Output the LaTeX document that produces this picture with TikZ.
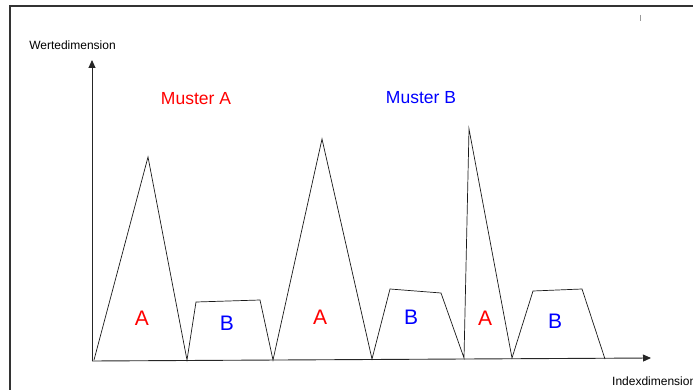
\documentclass[tikz,border=0pt]{standalone}
\usepackage{fontspec}
\setmainfont{Liberation Sans}
\usetikzlibrary{arrows.meta}
\begin{document}
\begin{tikzpicture}[x=1pt,y=-1pt,
  axis/.style={line width=0.9pt,draw=black!85,-{Triangle[length=8pt,width=7pt]}},
  curve/.style={line width=0.7pt,draw=black!90,line join=miter},
  lblA/.style={text=red,font=\fontsize{21}{21}\selectfont,inner sep=0pt},
  lblB/.style={text=blue,font=\fontsize{21}{21}\selectfont,inner sep=0pt},
  title/.style={font=\fontsize{17.5}{17.5}\selectfont,inner sep=0pt},
  axlabel/.style={font=\fontsize{12}{12}\selectfont,inner sep=0pt}]
\useasboundingbox (0,0) rectangle (693,390);
% frame
\draw[line width=1.4pt,draw=black!80] (10,390) -- (10,6) -- (693,6);
\draw[line width=1pt,draw=black!40] (640,15) -- (640,21);
% axes
\coordinate (o) at (92,361);
\coordinate (ytip) at (92,60);
\coordinate (xtip) at (651,358);
\draw[axis] (o) -- (ytip);
\draw[axis] (o) -- (xtip);
% curve
\draw[curve] (94,360) -- (148,157) -- (187,360) -- (196,302) -- (260,300)
  -- (273,360) -- (322,139) -- (372,359) -- (390,289) -- (441,293)
  -- (464,358) -- (469,129) -- (512,358) -- (533,291) -- (582,289) -- (605,359);
% labels
\node[lblA] (a1) at (142,318) {A};
\node[lblB] (b1) at (227,323) {B};
\node[lblA] (a2) at (320,317) {A};
\node[lblB] (b2) at (411,317) {B};
\node[lblA] (a3) at (485,318) {A};
\node[lblB] (b3) at (555,321) {B};
\node[title,text=red] (ma) at (196,99) {Muster A};
\node[title,text=blue] (mb) at (421,98) {Muster B};
\node[axlabel] (wd) at (72.5,45) {Wertedimension};
\node[axlabel,anchor=west] (id) at (612,381) {Indexdimension};
\end{tikzpicture}
\end{document}
